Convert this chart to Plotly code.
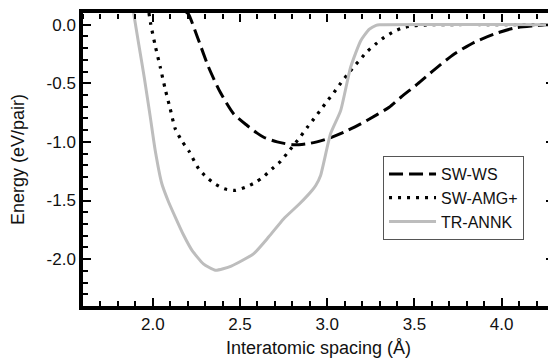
import plotly.graph_objects as go

# SW-WS (dashed)
ws_x = [2.19, 2.205, 2.253, 2.32, 2.387, 2.464, 2.541, 2.598, 2.636, 2.713, 2.809, 2.905, 3.0, 3.096,
        3.192, 3.288, 3.355, 3.422, 3.518, 3.613, 3.728, 3.843, 3.958, 4.073, 4.188, 4.25, 4.3]
ws_y = [0.11, 0.09, -0.094, -0.363, -0.577, -0.761, -0.86, -0.925, -0.96, -1.0, -1.025, -1.011, -0.974, -0.917,
        -0.846, -0.765, -0.704, -0.619, -0.505, -0.385, -0.25, -0.15, -0.079, -0.028, -0.009, 0.0, 0.0]

# SW-AMG+ (dotted)
amg_x = [1.978, 1.989, 2.014, 2.043, 2.071, 2.10, 2.129, 2.17, 2.205, 2.263, 2.307, 2.355, 2.41, 2.47,
         2.531, 2.589, 2.636, 2.684, 2.732, 2.771, 2.809, 2.847, 2.886, 2.924, 2.962, 3.0, 3.039, 3.077,
         3.115, 3.153, 3.192, 3.23, 3.278, 3.326, 3.383, 3.441, 3.498, 3.6, 4.3]
amg_y = [0.1, 0.0, -0.179, -0.363, -0.548, -0.718, -0.889, -1.0, -1.073, -1.229, -1.30, -1.357, -1.40, -1.414,
         -1.386, -1.345, -1.295, -1.229, -1.167, -1.096, -1.025, -0.954, -0.875, -0.803, -0.727, -0.652, -0.577, -0.5,
         -0.426, -0.358, -0.292, -0.227, -0.165, -0.108, -0.057, -0.023, -0.009, 0.0, 0.0]

# TR-ANNK (grey solid)
ann_x = [1.89, 1.92, 1.951, 1.985, 2.014, 2.052, 2.09, 2.129, 2.175, 2.225, 2.29, 2.359, 2.45, 2.579,
         2.665, 2.751, 2.84, 2.915, 2.935, 2.962, 3.019, 3.077, 3.134, 3.192, 3.24, 3.28, 3.30, 4.3]
ann_y = [0.1, -0.17, -0.449, -0.78, -1.073, -1.357, -1.51, -1.641, -1.79, -1.925, -2.04, -2.095, -2.06, -1.953,
         -1.81, -1.655, -1.53, -1.41, -1.37, -1.286, -0.931, -0.733, -0.363, -0.136, -0.04, -0.005, 0.0, 0.0]

series_names = ["SW-WS", "SW-AMG+", "TR-ANNK"]

x_ticks = [2.0, 2.5, 3.0, 3.5, 4.0]
x_ticktext = ["2.0", "2.5", "3.0", "3.5", "4.0"]
y_ticks = [0.0, -0.5, -1.0, -1.5, -2.0]
y_ticktext = ["0.0", "-0.5", "-1.0", "-1.5", "-2.0"]

X_RANGE = [1.6, 4.3]
Y_RANGE = [-2.4, 0.1]
FAM = "Liberation Sans"
TXT = "#111111"

fig = go.Figure()
fig.add_trace(go.Scatter(x=ws_x, y=ws_y, mode="lines", name=series_names[0],
                         line=dict(color="black", width=3, dash="14px,6px", shape="spline", smoothing=0.6)))
fig.add_trace(go.Scatter(x=amg_x, y=amg_y, mode="lines", name=series_names[1],
                         line=dict(color="black", width=3.2, dash="3px,6px", shape="spline", smoothing=0.6)))
fig.add_trace(go.Scatter(x=ann_x, y=ann_y, mode="lines", name=series_names[2],
                         line=dict(color="#bdbdbd", width=3, shape="spline", smoothing=0.5)))

tick_common = dict(ticks="inside", ticklen=8, tickwidth=1.5, tickcolor="black",
                   showgrid=False, zeroline=False, automargin=False)
minor_common = dict(dtick=0.1, tick0=0, ticks="inside", ticklen=5, tickwidth=1.5, tickcolor="black")
# mirrored tick axes: placed at the top / right edge, with "outside" ticks that point into the plot
mirror_tick = dict(ticks="outside", ticklen=8, tickwidth=1.5, tickcolor="black",
                   showgrid=False, zeroline=False, automargin=False)
mirror_minor = dict(dtick=0.1, tick0=0, ticks="outside", ticklen=5, tickwidth=1.5, tickcolor="black")

# the page body adds an 8px offset, so the figure is 8px smaller each way
fig.update_layout(
    template="none",
    width=548, height=350,
    margin=dict(l=75, r=2, t=5, b=52),
    paper_bgcolor="white", plot_bgcolor="white",
    font=dict(family=FAM, size=17, color=TXT),
    showlegend=True,
    legend=dict(x=0.637, y=0.512, xanchor="left", yanchor="top",
                bordercolor="#555555", borderwidth=1, bgcolor="white",
                font=dict(family=FAM, size=16, color=TXT),
                tracegroupgap=0, itemwidth=47),
    xaxis=dict(range=X_RANGE, showline=True, linecolor="black", linewidth=3.5, mirror=True,
               tickvals=x_ticks, ticktext=x_ticktext, tickfont=dict(family=FAM, size=17, color=TXT),
               minor=minor_common,
               title=dict(text="Interatomic spacing (Å)", standoff=9, font=dict(family=FAM, size=18, color=TXT)),
               **tick_common),
    yaxis=dict(range=Y_RANGE, showline=True, linecolor="black", linewidth=3.5, mirror=True,
               tickvals=y_ticks, ticktext=y_ticktext, tickfont=dict(family=FAM, size=17, color=TXT),
               minor=minor_common,
               title=dict(text="Energy (eV/pair)", standoff=20, font=dict(family=FAM, size=18, color=TXT)),
               **tick_common),
    xaxis2=dict(range=X_RANGE, overlaying="x", side="bottom", anchor="free", position=1,
                tickvals=x_ticks, showticklabels=False, showline=False,
                minor=mirror_minor, **mirror_tick),
    yaxis2=dict(range=Y_RANGE, overlaying="y", side="left", anchor="free", position=1,
                tickvals=y_ticks, showticklabels=False, showline=False,
                minor=mirror_minor, **mirror_tick),
)
# invisible helper trace so the mirrored tick axes are drawn
fig.add_trace(go.Scatter(x=[X_RANGE[0]], y=[Y_RANGE[0]], xaxis="x2", yaxis="y2", mode="markers",
                         marker=dict(opacity=0), showlegend=False, hoverinfo="skip"))

fig.write_html("out.html")
